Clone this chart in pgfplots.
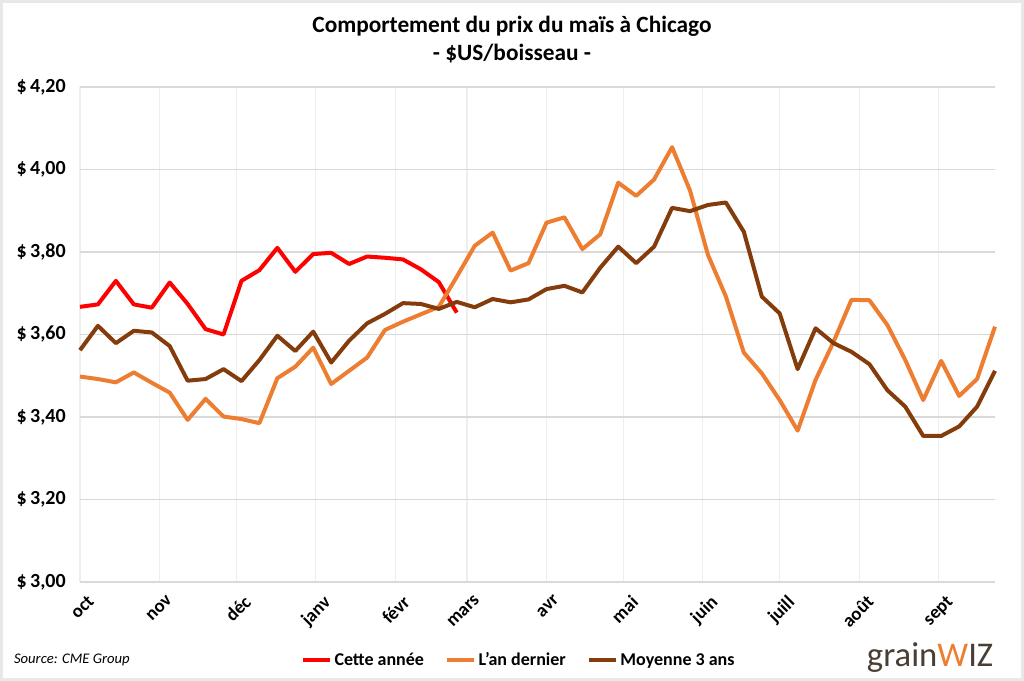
\documentclass[border=0pt]{standalone}
\usepackage{pgfplots}
\pgfplotsset{compat=1.18}
\usepackage{pgfplotstable}
\usepackage{fontspec}
\setmainfont{Carlito}

\definecolor{cRed}{RGB}{255,0,0}
\definecolor{cOrange}{RGB}{237,125,49}
\definecolor{cBrown}{RGB}{132,60,12}
\definecolor{gridH}{RGB}{217,217,217}
\definecolor{gridV}{RGB}{238,238,238}
\definecolor{logoGray}{RGB}{72,62,52}

% semaine 0 = debut octobre
\pgfplotstableread{
x y
0 3.667
1 3.673
2 3.730
3 3.673
4 3.665
5 3.726
6 3.674
7 3.613
8 3.600
9 3.730
10 3.756
11 3.810
12 3.752
13 3.795
14 3.798
15 3.771
16 3.789
17 3.786
18 3.782
19 3.758
20 3.727
21 3.653
}\cetteannee

\pgfplotstableread{
x y
0 3.498
1 3.492
2 3.484
3 3.508
4 3.483
5 3.459
6 3.393
7 3.444
8 3.401
9 3.395
10 3.385
11 3.494
12 3.522
13 3.568
14 3.480
15 3.512
16 3.544
17 3.611
18 3.631
19 3.649
20 3.667
21 3.740
22 3.815
23 3.847
24 3.755
25 3.773
26 3.871
27 3.884
28 3.807
29 3.843
30 3.968
31 3.936
32 3.976
33 4.054
34 3.949
35 3.793
36 3.692
37 3.556
38 3.506
39 3.441
40 3.367
41 3.490
42 3.582
43 3.684
44 3.683
45 3.623
46 3.538
47 3.441
48 3.536
49 3.451
50 3.492
51 3.619
}\andernier

\pgfplotstableread{
x y
0 3.562
1 3.621
2 3.579
3 3.609
4 3.605
5 3.572
6 3.488
7 3.492
8 3.516
9 3.487
10 3.538
11 3.597
12 3.560
13 3.607
14 3.532
15 3.585
16 3.627
17 3.650
18 3.676
19 3.674
20 3.662
21 3.679
22 3.666
23 3.686
24 3.678
25 3.685
26 3.710
27 3.718
28 3.702
29 3.762
30 3.813
31 3.773
32 3.813
33 3.907
34 3.899
35 3.914
36 3.920
37 3.849
38 3.692
39 3.651
40 3.516
41 3.615
42 3.579
43 3.558
44 3.528
45 3.465
46 3.425
47 3.354
48 3.354
49 3.377
50 3.425
51 3.512
}\moyenne

\begin{document}
\begin{tikzpicture}
\useasboundingbox (-60pt,-74.25pt) rectangle (708pt,436.5pt);
\draw[gridH!60, line width=2pt] (-59pt,-73.25pt) rectangle (707pt,435.5pt);
\begin{axis}[
  at={(0,0)}, anchor=south west,
  scale only axis,
  width=686.25pt, height=371.25pt,
  xmin=0, xmax=51,
  ymin=3, ymax=4.2,
  ytick={3,3.2,...,4.21},
  xtick={0,4.43,8.71,13.14,17.57,21.57,26,30.29,34.71,39,43.43,47.86},
  xticklabels={oct,nov,déc,janv,févr,mars,avr,mai,juin,juill,août,sept},
  xticklabel style={rotate=45, anchor=north east, font=\fontsize{14}{16}\selectfont\bfseries, xshift=0.5pt, yshift=-6.5pt},
  yticklabel style={font=\fontsize{15}{17}\selectfont\bfseries, anchor=west, xshift=-51pt},
  yticklabel={\$\,\pgfmathprintnumber{\tick}},
  /pgf/number format/.cd, fixed, fixed zerofill, precision=2, use comma, assume math mode=true,
  /pgfplots/.cd,
  axis line style={draw=none},
  tick style={draw=none},
  xmajorgrids, ymajorgrids,
  x grid style={gridV, line width=1pt},
  y grid style={gridH, line width=1.2pt},
  legend columns=3,
  legend style={at={(0.48,-0.158)}, anchor=center, draw=none, fill=none,
    font=\fontsize{13.5}{15}\selectfont\bfseries,
    /tikz/every even column/.append style={column sep=14pt}},
  legend image code/.code={\draw[#1, line width=3pt] (0pt,0pt) -- (20pt,0pt);},
  clip=false,
]
\addplot[cRed, line width=3pt, line join=round] table[x=x, y=y] {\cetteannee};
\addlegendentry{Cette année}
\addplot[cOrange, line width=3pt, line join=round] table[x=x, y=y] {\andernier};
\addlegendentry{L'an dernier}
\addplot[cBrown, line width=3pt, line join=round] table[x=x, y=y] {\moyenne};
\addlegendentry{Moyenne 3 ans}
\end{axis}
\node[font=\fontsize{17.5}{21}\selectfont\bfseries, align=center] at (324pt,407pt)
  {Comportement du prix du maïs à Chicago\\ - \$US/boisseau -};
\node[font=\fontsize{11}{13}\selectfont\itshape, anchor=west] at (-53pt,-58.5pt) {Source: CME Group};
\node[font=\fontsize{26}{28}\selectfont, anchor=west, inner sep=0pt] at (590pt,-57pt)
  {\color{logoGray}grain\color{cOrange}W\color{logoGray}IZ};
\end{tikzpicture}
\end{document}
